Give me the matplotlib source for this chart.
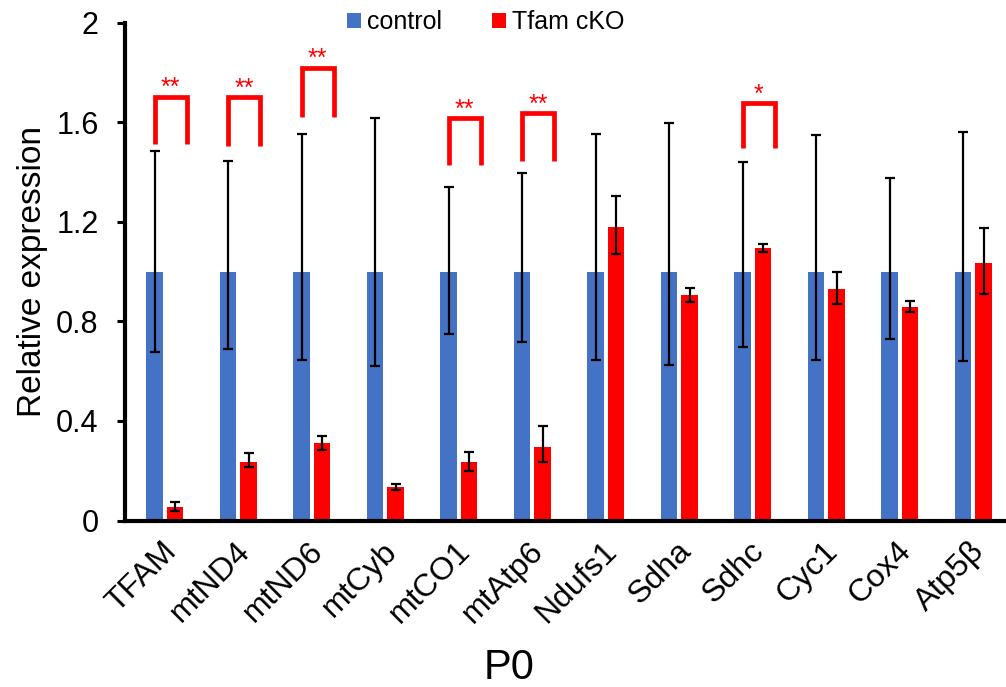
import numpy as np
import matplotlib
matplotlib.use("Agg")
import matplotlib.pyplot as plt
from matplotlib.transforms import ScaledTranslation

# --------------------------
# Data
# --------------------------
genes = ["TFAM", "mtND4", "mtND6", "mtCyb", "mtCO1", "mtAtp6",
         "Ndufs1", "Sdha", "Sdhc", "Cyc1", "Cox4", "Atp5β"]

control = [1.0] * 12
control_hi = [1.485, 1.445, 1.552, 1.618, 1.340, 1.397, 1.552, 1.596, 1.441, 1.548, 1.375, 1.559]
control_lo = [0.675, 0.690, 0.646, 0.622, 0.749, 0.716, 0.646, 0.624, 0.696, 0.646, 0.728, 0.642]

cko = [0.053, 0.236, 0.310, 0.136, 0.234, 0.296, 1.179, 0.906, 1.093, 0.931, 0.856, 1.033]
cko_hi = [0.073, 0.271, 0.341, 0.147, 0.276, 0.378, 1.302, 0.935, 1.110, 0.997, 0.881, 1.173]
cko_lo = [0.039, 0.214, 0.283, 0.122, 0.199, 0.234, 1.070, 0.879, 1.080, 0.871, 0.837, 0.911]

# significance brackets: gene index, top, leg bottom, label
sig_idx = [0, 1, 2, 4, 5, 8]
sig_top = [1.702, 1.700, 1.818, 1.615, 1.635, 1.677]
sig_bottom = [1.512, 1.504, 1.622, 1.426, 1.445, 1.495]
sig_label = ["**", "**", "**", "**", "**", "*"]

# --------------------------
# Plotting
# --------------------------
plt.rcParams["font.family"] = ["Liberation Sans", "DejaVu Sans"]

BLUE = "#4472C4"
RED = "#FF0000"

fig = plt.figure(figsize=(10.06, 6.87), dpi=100)
ax = fig.add_axes([125 / 1006, 1 - 520.5 / 687, (1004 - 125) / 1006, (520.5 - 22.5) / 687])

x = np.arange(len(genes))
off = 0.14
w = 0.225

ctrl_err = [np.array(control) - np.array(control_lo), np.array(control_hi) - np.array(control)]
cko_err = [np.array(cko) - np.array(cko_lo), np.array(cko_hi) - np.array(cko)]

ekw = dict(ecolor="black", elinewidth=1.6, capsize=3.8, capthick=1.6)
ax.bar(x - off, control, w, color=BLUE, label="control", yerr=ctrl_err, error_kw=ekw, zorder=2)
ax.bar(x + off, cko, w, color=RED, label="Tfam cKO", yerr=cko_err, error_kw=ekw, zorder=2)

# significance brackets
for i, top, bot, lab in zip(sig_idx, sig_top, sig_bottom, sig_label):
    xl, xr = i - 0.14, i + 0.30
    ax.plot([xl, xl, xr, xr], [bot, top, top, bot], color=RED, lw=3.4,
            solid_joinstyle="miter", solid_capstyle="butt", zorder=3, clip_on=False)
    ax.text((xl + xr) / 2, top + 0.006, lab, color=RED, fontsize=18,
            ha="center", va="baseline", zorder=3)

ax.set_xlim(-0.543, 11.416)
ax.set_ylim(0, 2)
ax.set_yticks([0, 0.4, 0.8, 1.2, 1.6, 2])
ax.set_yticklabels(["0", "0.4", "0.8", "1.2", "1.6", "2"], fontsize=22)
ax.set_xticks(x)
ax.set_xticklabels(genes, fontsize=23, rotation=45, ha="right", va="center",
                   rotation_mode="anchor")
ax.tick_params(axis="x", length=0, pad=19)
ax.tick_params(axis="y", length=6, width=2.2, direction="out", pad=13)
shift = ScaledTranslation(5 / 72, 0, fig.dpi_scale_trans)
for lab in ax.get_xticklabels():
    lab.set_transform(lab.get_transform() + shift)

for s in ["top", "right"]:
    ax.spines[s].set_visible(False)
for s in ["left", "bottom"]:
    ax.spines[s].set_linewidth(3)

ax.set_ylabel("Relative expression", fontsize=24, labelpad=6)
fig.text(509 / 1006, 1 - 668 / 687, "P0", fontsize=30, ha="center", va="center")

fig.legend(loc="center", bbox_to_anchor=(485.5 / 1006, 1 - 22 / 687), ncol=2,
           frameon=False, fontsize=18, handlelength=0.55, handleheight=0.55,
           handletextpad=0.25, columnspacing=2.0)

fig.savefig("out.png", dpi=100)
